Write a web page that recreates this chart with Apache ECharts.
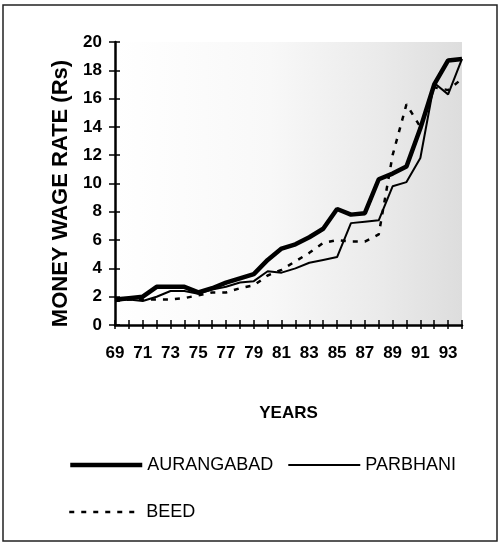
<!DOCTYPE html>
<html>
<head>
<meta charset="utf-8">
<script src="https://cdn.jsdelivr.net/npm/echarts@6/dist/echarts.min.js"></script>
<style>
    html, body { margin: 0; padding: 0; background: #fff; }
    #chart { width: 500px; height: 543px; }
</style>
</head>
<body>
<div id="chart"></div>
<script>
// years 1969 - 1994, shown as two digits
var years = ['69', '70', '71', '72', '73', '74', '75', '76', '77', '78', '79', '80', '81',
    '82', '83', '84', '85', '86', '87', '88', '89', '90', '91', '92', '93', '94']

// money wage rate (Rs)
var aurangabad = [1.8, 1.9, 2.0, 2.7, 2.7, 2.7, 2.3, 2.6, 3.0, 3.3, 3.6, 4.6, 5.4,
    5.7, 6.2, 6.8, 8.2, 7.8, 7.9, 10.3, 10.7, 11.2, 13.9, 17.0, 18.7, 18.8]
var parbhani = [1.7, 1.8, 1.7, 2.0, 2.4, 2.4, 2.2, 2.5, 2.7, 3.0, 3.1, 3.8, 3.7,
    4.0, 4.4, 4.6, 4.8, 7.2, 7.3, 7.4, 9.8, 10.1, 11.8, 17.1, 16.3, 18.8]
var beed = [1.7, 1.8, 1.8, 1.8, 1.8, 1.9, 2.1, 2.3, 2.3, 2.6, 2.8, 3.5, 3.9,
    4.5, 5.1, 5.8, 6.0, 5.9, 5.9, 6.4, 12.0, 15.6, 14.0, 16.8, 16.6, 17.4]

var font = 'Liberation Sans, Arial, sans-serif'
var legendText = { fontFamily: font, fontSize: 18, color: '#000' }

var chart = echarts.init(document.getElementById('chart'))

var option = {
    animation: false,
    backgroundColor: '#fff',
    grid: {
        left: 115,
        right: 38,
        top: 42,
        bottom: 218,
        show: true,
        borderWidth: 0,
        // the scan has a halftone that gets denser to the right
        backgroundColor: new echarts.graphic.LinearGradient(0, 0, 1, 0, [
            { offset: 0, color: '#ffffff' },
            { offset: 0.45, color: '#f8f8f8' },
            { offset: 0.75, color: '#ebebeb' },
            { offset: 1, color: '#dddddd' }
        ])
    },
    legend: [{
        data: [
            { name: 'AURANGABAD', lineStyle: { width: 4.5 } },
            { name: 'PARBHANI', lineStyle: { width: 2 } }
        ],
        left: 68,
        top: 456,
        padding: 0,
        itemWidth: 72,
        itemHeight: 14,
        itemGap: 14,
        itemStyle: { opacity: 0 },
        textStyle: legendText
    }, {
        data: [{ name: 'BEED', lineStyle: { width: 2.5, type: [5, 7] } }],
        left: 68,
        top: 503,
        padding: 0,
        itemWidth: 72,
        itemHeight: 14,
        itemStyle: { opacity: 0 },
        textStyle: legendText
    }],
    xAxis: [{
        type: 'category',
        data: years,
        boundaryGap: false,
        name: 'YEARS',
        nameLocation: 'middle',
        nameGap: 80,
        nameTextStyle: { fontFamily: font, fontSize: 17, fontWeight: 'bold', color: '#000' },
        axisLine: { lineStyle: { color: '#000', width: 2.5 } },
        axisTick: { show: true, interval: 0, length: 4, lineStyle: { color: '#000', width: 1.5 } },
        axisLabel: {
            interval: 1,
            margin: 20,
            fontFamily: font,
            fontSize: 17,
            fontWeight: 'bold',
            color: '#000'
        },
        splitLine: { show: false }
    }, {
        // second axis only to draw the upper half of the cross ticks
        type: 'category',
        data: years,
        boundaryGap: false,
        position: 'bottom',
        axisLine: { show: false },
        axisTick: { show: true, inside: true, interval: 0, length: 5, lineStyle: { color: '#000', width: 1.5 } },
        axisLabel: { show: false },
        splitLine: { show: false }
    }],
    yAxis: [{
        type: 'value',
        min: 0,
        max: 20,
        interval: 2,
        name: 'MONEY WAGE RATE (Rs)',
        nameLocation: 'middle',
        nameGap: 37,
        nameTextStyle: {
            fontFamily: font, fontSize: 22, fontWeight: 'bold', color: '#000',
            padding: [0, 20, 0, 0]
        },
        axisLine: { show: true, lineStyle: { color: '#000', width: 2.5 } },
        axisTick: { show: true, length: 6, lineStyle: { color: '#000', width: 1.5 } },
        axisLabel: {
            margin: 13,
            fontFamily: font,
            fontSize: 17,
            fontWeight: 'bold',
            color: '#000'
        },
        splitLine: { show: false }
    }, {
        type: 'value',
        min: 0,
        max: 20,
        interval: 2,
        position: 'left',
        axisLine: { show: false },
        axisTick: { show: true, inside: true, length: 5, lineStyle: { color: '#000', width: 1.5 } },
        axisLabel: { show: false },
        splitLine: { show: false }
    }],
    series: [{
        name: 'AURANGABAD',
        type: 'line',
        data: aurangabad,
        symbol: 'none',
        z: 4,
        lineStyle: { color: '#000', width: 4.5 },
        itemStyle: { color: '#000' }
    }, {
        name: 'PARBHANI',
        type: 'line',
        data: parbhani,
        symbol: 'none',
        z: 3,
        lineStyle: { color: '#000', width: 2 },
        itemStyle: { color: '#000' }
    }, {
        name: 'BEED',
        type: 'line',
        data: beed,
        symbol: 'none',
        z: 2,
        lineStyle: { color: '#000', width: 2.5, type: [5, 7] },
        itemStyle: { color: '#000' }
    }],
    graphic: [{
        // outer frame of the figure
        type: 'rect',
        shape: { x: 3, y: 5, width: 494, height: 536 },
        style: { fill: 'none', stroke: '#222', lineWidth: 1.5 },
        silent: true
    }]
}

chart.setOption(option)
</script>
</body>
</html>
